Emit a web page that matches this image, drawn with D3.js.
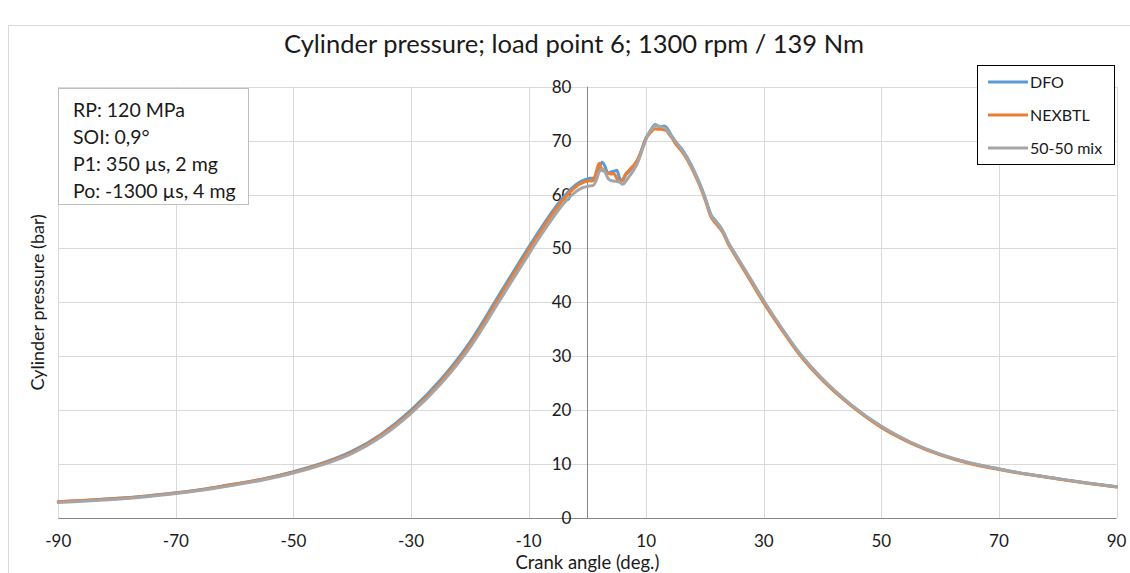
<!DOCTYPE html>
<html>
<head>
<meta charset="utf-8">
<script src="https://cdn.jsdelivr.net/npm/d3@7"></script>
<style>
  body { margin: 0; background: #fff; }
  text { font-family: Lato, "Open Sans", sans-serif; }
</style>
</head>
<body>
<script>
const svgWidth = 1130;
const svgHeight = 573;

// crank angle (deg.)
const angles = [-90, -85, -80, -75, -70, -65, -60, -55, -50, -45, -40, -35, -30, -25, -20, -15, -10, -8, -6, -4, -2, -1,
    0, 0.5, 1, 1.5, 2, 2.5, 3, 3.5, 4, 4.5, 5, 5.5, 6, 6.5, 7, 7.5, 8, 8.5, 9, 9.5, 10, 10.5, 11, 11.5, 12, 12.5, 13, 13.5, 14, 14.5, 15,
    16, 17, 18, 19, 20, 21, 22, 23, 24, 25, 27, 30, 33, 36, 40, 45, 50, 55, 60, 65, 70, 75, 80, 85, 90];

// cylinder pressure (bar)
const dfo = [3.0, 3.3, 3.65, 4.1, 4.7, 5.4, 6.3, 7.3, 8.6, 10.2, 12.4, 15.6, 20.0, 25.6, 32.6, 41.4, 50.2, 53.6, 56.8, 59.6, 61.8, 62.5,
    62.9, 63.0, 63.0, 63.6, 65.0, 66.0, 65.2, 63.9, 64.2, 64.3, 64.5, 63.0, 62.6, 63.6, 64.2, 64.8, 65.4, 66.3, 67.6, 69.2, 70.6, 71.4, 72.3, 73.0, 72.7, 72.6, 72.7, 72.4, 71.5, 70.6, 69.8,
    68.5, 66.8, 64.7, 62.3, 59.5, 56.3, 54.9, 53.3, 51.0, 49.2, 45.6, 40.2, 35.2, 30.6, 25.7, 20.8, 16.9, 14.0, 11.8, 10.2, 9.1, 8.1, 7.3, 6.5, 5.8];

const nexbtl = [3.0, 3.3, 3.6, 4.05, 4.65, 5.35, 6.25, 7.25, 8.5, 10.1, 12.2, 15.4, 19.7, 25.2, 32.1, 40.9, 49.7, 53.1, 56.3, 59.2, 61.4, 62.1,
    62.5, 62.5, 62.6, 64.2, 65.8, 64.5, 64.3, 64.0, 63.8, 63.9, 63.0, 62.4, 62.8, 63.8, 64.4, 65.0, 65.6, 66.4, 67.6, 69.0, 70.4, 71.2, 71.8, 72.2, 72.1, 72.1, 72.0, 71.8, 71.0, 70.3, 69.4,
    68.1, 66.4, 64.3, 61.9, 59.1, 55.9, 54.4, 53.0, 50.7, 48.9, 45.3, 39.9, 35.0, 30.4, 25.5, 20.7, 16.8, 13.9, 11.7, 10.1, 9.0, 8.05, 7.25, 6.45, 5.75];

const mix = [2.85, 3.15, 3.5, 3.95, 4.55, 5.25, 6.1, 7.1, 8.35, 9.9, 12.0, 15.1, 19.4, 24.8, 31.6, 40.2, 48.9, 52.3, 55.5, 58.4, 60.5, 61.2,
    61.5, 61.6, 61.7, 62.6, 64.2, 64.8, 64.2, 63.0, 62.6, 62.5, 62.4, 62.3, 61.9, 62.4, 63.2, 63.9, 64.8, 65.8, 67.2, 68.9, 70.3, 71.5, 72.2, 72.8, 72.7, 72.6, 72.4, 72.0, 71.2, 70.5, 69.8,
    68.4, 66.7, 64.6, 62.2, 59.4, 56.2, 54.8, 53.3, 51.0, 49.2, 45.7, 40.3, 35.3, 30.7, 25.8, 20.9, 17.0, 14.05, 11.85, 10.25, 9.1, 8.1, 7.3, 6.5, 5.8];

const seriesNames = ["DFO", "NEXBTL", "50-50 mix"];
const seriesColors = ["#5B9BD5", "#ED7D31", "#A5A5A5"];
const xTicks = [-90, -70, -50, -30, -10, 10, 30, 50, 70, 90];
const yTicks = [0, 10, 20, 30, 40, 50, 60, 70, 80];
const noteLines = ["RP: 120 MPa", "SOI: 0,9°", "P1: 350 µs, 2 mg", "Po: -1300 µs, 4 mg"];

const plotLeft = 58.3;
const plotRight = 1116.5;
const plotTop = 86.7;
const plotBottom = 518;

const svg = d3.select("body").append("svg").attr("width", svgWidth).attr("height", svgHeight);

svg.append("rect")
    .attr("width", "100%")
    .attr("height", "100%")
    .attr("fill", "#ffffff");

// chart area border
svg.append("rect")
    .attr("x", 8.5)
    .attr("y", 25.5)
    .attr("width", 1200)
    .attr("height", 700)
    .attr("fill", "none")
    .attr("stroke", "#D9D9D9");

const x = d3.scaleLinear().domain([-90, 90]).range([plotLeft, plotRight]);
const y = d3.scaleLinear().domain([0, 80]).range([plotBottom, plotTop]);

// gridlines
svg.append("g")
    .selectAll("line")
    .data(yTicks.slice(1))
    .join("line")
    .attr("x1", plotLeft)
    .attr("x2", plotRight)
    .attr("y1", d => Math.round(y(d)) + 0.5)
    .attr("y2", d => Math.round(y(d)) + 0.5)
    .attr("stroke", "#D9D9D9")
    .attr("stroke-width", 1);

svg.append("g")
    .selectAll("line")
    .data(xTicks)
    .join("line")
    .attr("x1", d => Math.round(x(d)) + 0.5)
    .attr("x2", d => Math.round(x(d)) + 0.5)
    .attr("y1", plotTop)
    .attr("y2", plotBottom)
    .attr("stroke", "#D9D9D9")
    .attr("stroke-width", 1);

// x axis line at 0 bar
svg.append("line")
    .attr("x1", plotLeft)
    .attr("x2", plotRight)
    .attr("y1", Math.round(y(0)) + 0.5)
    .attr("y2", Math.round(y(0)) + 0.5)
    .attr("stroke", "#868686");

// y axis line at 0 deg
svg.append("line")
    .attr("x1", Math.round(x(0)) + 0.5)
    .attr("x2", Math.round(x(0)) + 0.5)
    .attr("y1", plotTop)
    .attr("y2", plotBottom)
    .attr("stroke", "#868686");

// tick labels
svg.append("g")
    .selectAll("text")
    .data(xTicks)
    .join("text")
    .attr("x", d => x(d))
    .attr("y", 547)
    .attr("text-anchor", "middle")
    .attr("font-size", 17)
    .attr("fill", "#1a1a1a")
    .text(d => d);

svg.append("g")
    .selectAll("text")
    .data(yTicks)
    .join("text")
    .attr("x", x(0) - 16)
    .attr("y", d => y(d) + 6)
    .attr("text-anchor", "end")
    .attr("font-size", 17)
    .attr("fill", "#1a1a1a")
    .text(d => d);

// titles
svg.append("text")
    .attr("x", 574)
    .attr("y", 53)
    .attr("text-anchor", "middle")
    .attr("font-size", 25.5)
    .attr("fill", "#1a1a1a")
    .text("Cylinder pressure; load point 6; 1300 rpm / 139 Nm");

svg.append("text")
    .attr("x", (plotLeft + plotRight) / 2)
    .attr("y", 569)
    .attr("text-anchor", "middle")
    .attr("font-size", 18.5)
    .attr("fill", "#1a1a1a")
    .text("Crank angle (deg.)");

svg.append("text")
    .attr("transform", "translate(44," + ((plotTop + plotBottom) / 2) + ") rotate(-90)")
    .attr("text-anchor", "middle")
    .attr("font-size", 18)
    .attr("fill", "#1a1a1a")
    .text("Cylinder pressure (bar)");

// series
const allSeries = [dfo, nexbtl, mix];
const line = d3.line()
    .x((d, i) => x(angles[i]))
    .y(d => y(d))
    .curve(d3.curveMonotoneX);

svg.append("g")
    .selectAll("path")
    .data(allSeries)
    .join("path")
    .attr("d", d => line(d))
    .attr("fill", "none")
    .attr("stroke", (d, i) => seriesColors[i])
    .attr("stroke-width", 3)
    .attr("stroke-linejoin", "round")
    .attr("stroke-linecap", "round");

// note box
const note = svg.append("g");
note.append("rect")
    .attr("x", 58.5)
    .attr("y", 88.5)
    .attr("width", 190)
    .attr("height", 116)
    .attr("fill", "#ffffff")
    .attr("stroke", "#BFBFBF");

note.selectAll("text")
    .data(noteLines)
    .join("text")
    .attr("x", 73)
    .attr("y", (d, i) => 117 + i * 27)
    .attr("font-size", 19.5)
    .attr("fill", "#1a1a1a")
    .text(d => d);

// legend
const legend = svg.append("g");
legend.append("rect")
    .attr("x", 977.5)
    .attr("y", 65.5)
    .attr("width", 137)
    .attr("height", 99)
    .attr("fill", "#ffffff")
    .attr("stroke", "#000000");

const legendRows = legend.selectAll("g")
    .data(seriesNames)
    .join("g")
    .attr("transform", (d, i) => "translate(0," + (82 + i * 33) + ")");

legendRows.append("line")
    .attr("x1", 988)
    .attr("x2", 1028)
    .attr("stroke", (d, i) => seriesColors[i])
    .attr("stroke-width", 3);

legendRows.append("text")
    .attr("x", 1030)
    .attr("y", 5.5)
    .attr("font-size", 16)
    .attr("fill", "#1a1a1a")
    .text(d => d);
</script>
</body>
</html>
